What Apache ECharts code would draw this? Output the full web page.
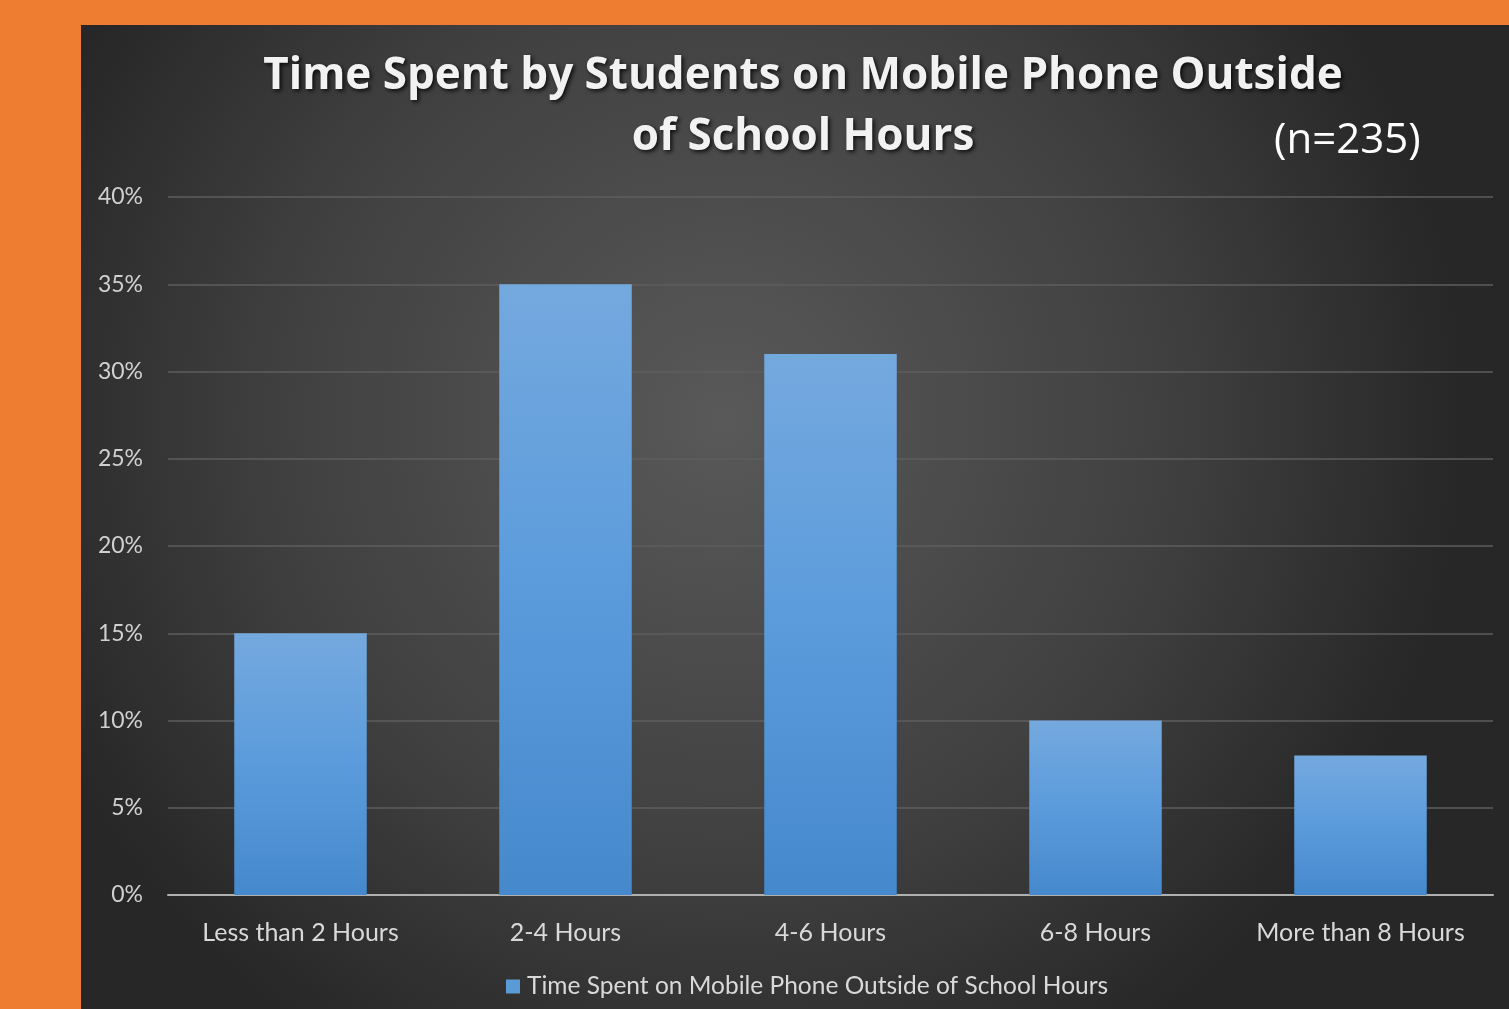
<!DOCTYPE html>
<html><head><meta charset="utf-8">
<script src="https://cdn.jsdelivr.net/npm/echarts@6/dist/echarts.min.js"></script>
<style>
html,body{margin:0;padding:0;background:#ee7d31;width:1509px;height:1009px;overflow:hidden}
#c{position:absolute;left:81px;top:25px;width:1428px;height:984px}
</style></head><body>
<div id="c"></div>
<script>
const categories = ['Less than 2 Hours', '2-4 Hours', '4-6 Hours', '6-8 Hours', 'More than 8 Hours'];
const values = [15, 35, 31, 10, 8];
const seriesName = 'Time Spent on Mobile Phone Outside of School Hours';
const titleText = 'Time Spent by Students on Mobile Phone Outside\nof School Hours';
const noteText = '(n=235)';

const chart = echarts.init(document.getElementById('c'));
chart.setOption({
  backgroundColor: new echarts.graphic.RadialGradient(0.45, 0.4, 0.75, [
    {offset: 0, color: '#595959'},
    {offset: 0.6, color: '#404040'},
    {offset: 1, color: '#272727'}
  ]),
  title: {
    text: titleText,
    left: 717, top: 16, textAlign: 'center',
    textStyle: {
      fontFamily: 'Open Sans', fontWeight: 'bold', fontSize: 44, color: '#f2f2f2',
      lineHeight: 61, align: 'center',
      textShadowColor: 'rgba(0,0,0,0.8)', textShadowBlur: 4, textShadowOffsetX: 2, textShadowOffsetY: 2
    }
  },
  graphic: [{
    type: 'text', left: 1193, top: 95,
    style: {text: noteText, fill: '#ffffff', font: '42px "Open Sans"'}
  }],
  legend: {
    bottom: 5, left: 420,
    itemWidth: 14, itemHeight: 14, itemGap: 6,
    icon: 'rect',
    textStyle: {color: '#d9d9d9', fontFamily: 'Lato', fontSize: 24.5, padding: [0,0,0,2]},
    data: [{name: seriesName, itemStyle: {color: '#5b9bd5'}}]
  },
  grid: {left: 87, right: 16, top: 172, bottom: 114},
  xAxis: {
    type: 'category', data: categories,
    axisLine: {lineStyle: {color: '#b0b0b0', width: 2}},
    axisTick: {show: false},
    axisLabel: {color: '#d9d9d9', fontFamily: 'Lato', fontSize: 25, margin: 25, interval: 0, hideOverlap: false}
  },
  yAxis: {
    type: 'value', min: 0, max: 40, interval: 5,
    axisLine: {show: false}, axisTick: {show: false},
    axisLabel: {color: '#d0d0d0', fontFamily: 'Lato', fontSize: 23, margin: 25, formatter: '{value}%'},
    splitLine: {lineStyle: {color: '#5e5e5e', width: 1.5}}
  },
  series: [{
    name: seriesName, type: 'bar', data: values, barWidth: '50%',
    itemStyle: {
      color: new echarts.graphic.LinearGradient(0, 0, 0, 1, [
        {offset: 0, color: '#74a9de'},
        {offset: 0.5, color: '#5b9bdc'},
        {offset: 1, color: '#4589cc'}
      ]),
      shadowColor: 'rgba(0,0,0,0.5)', shadowBlur: 8
    }
  }]
});
</script>
</body></html>
